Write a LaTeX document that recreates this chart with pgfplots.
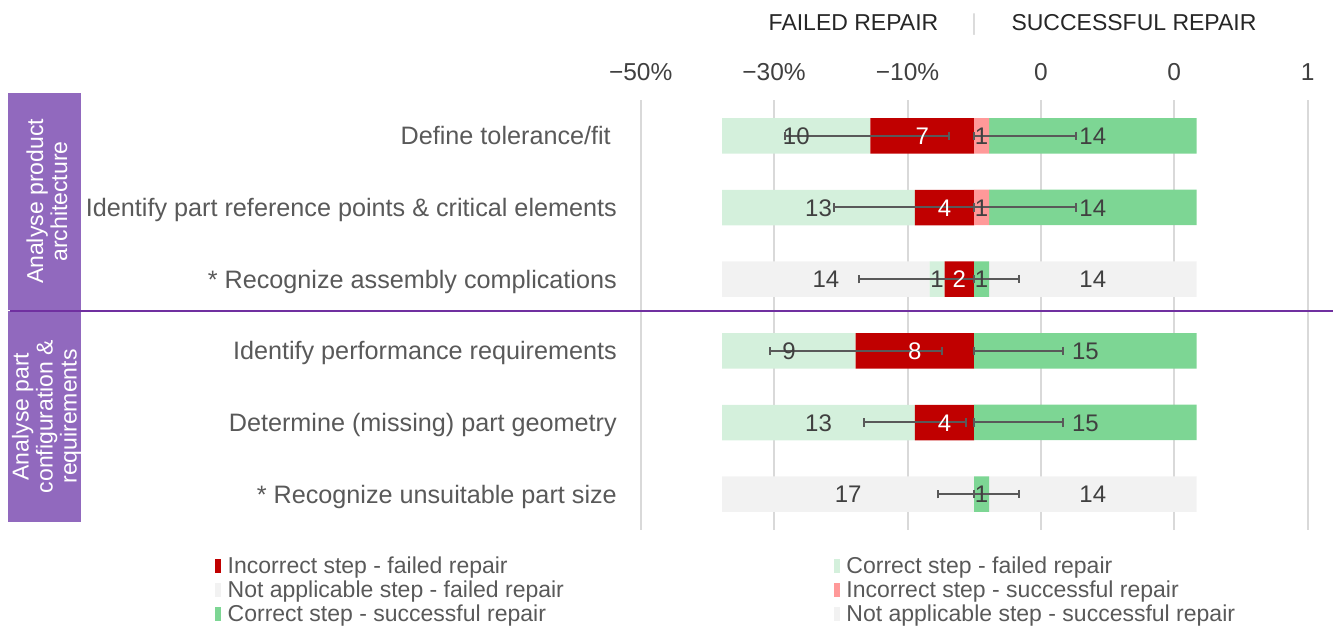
\documentclass[border=0pt]{standalone}
\usepackage{fontspec}
\setmainfont{Liberation Sans}
\usepackage{pgfplots}
\pgfplotsset{compat=1.18}

\definecolor{cRed}{HTML}{C00000}
\definecolor{cLGreen}{HTML}{D4F0DC}
\definecolor{cGrey}{HTML}{F2F2F2}
\definecolor{cPink}{HTML}{FF9999}
\definecolor{cGreen}{HTML}{7DD694}
\definecolor{cGrid}{HTML}{D9D9D9}
\definecolor{cErr}{HTML}{595959}
\definecolor{cBox}{HTML}{9169BE}
\definecolor{cLine}{HTML}{7030A0}
\definecolor{cLab}{HTML}{404040}
\definecolor{cCat}{HTML}{595959}
\definecolor{cHead}{HTML}{262626}

\pgfplotsset{
  base/.style={
    at={(640.7pt,98pt)}, anchor=south west,
    scale only axis, width=667pt, height=430pt,
    xmin=-22.5, xmax=22.5, ymin=0.5, ymax=6.5, y dir=reverse,
    clip=false,
  },
  myleg/.style={legend image code/.code={\fill[##1] (0pt,-7.5pt) rectangle (6pt,6.5pt);}},
  seg/.style={draw=none, fill=#1, myleg},
  lab/.style={draw=none, mark=none, point meta=explicit symbolic,
    nodes near coords, nodes near coords align=center,
    every node near coord/.append style={font=\fontsize{24}{28}\selectfont, text=#1,
      inner sep=0pt, text height=17.2pt, text depth=0pt, anchor=center}},
  whisk/.style={draw=none, mark=none, error bars/.cd, x dir=both, x explicit,
    error bar style={draw=cErr, line width=2pt, solid},
    error mark options={rotate=90, draw=cErr, line width=2pt, mark size=4.3pt}},
}

\begin{document}
\begin{tikzpicture}[x=1pt,y=1pt]
\useasboundingbox (0,0) rectangle (1333,628);

\fill[cBox] (8,535) rectangle (80.7,318);
\fill[cBox] (8,317) rectangle (80.7,106);

\begin{axis}[base, xbar stacked, bar width=35.5pt,
  axis line style={draw=none}, tick style={draw=none},
  xtick={-22.5,-13.5,-4.5,4.5,13.5,22.5},
  xticklabels={−50\%,−30\%,−10\%,0,0,1},
  xticklabel pos=upper,
  xticklabel style={font=\fontsize{24.5}{28}\selectfont, text=cLab, anchor=south, inner sep=0pt, yshift=19pt},
  xmajorgrids, grid style={cGrid, line width=2pt},
  ytick={1,2,3,4,5,6},
  yticklabels={Define tolerance/fit\hspace*{6pt}, Identify part reference points \& critical elements, * Recognize assembly complications, Identify performance requirements, Determine (missing) part geometry, * Recognize unsuitable part size},
  yticklabel style={font=\fontsize{25.2}{29}\selectfont, text=cCat, anchor=east, inner sep=0pt, xshift=-23.7pt, text height=18pt, text depth=0pt},
  legend columns=2, legend cell align=left,
  legend style={at={(-0.6382,-0.0623)}, anchor=north west, draw=none, fill=none, inner sep=0pt,
    font=\fontsize{23}{27}\selectfont, text=cCat, row sep=7.5pt,
    nodes={inner sep=0pt, text height=16.5pt, text depth=0pt},
    /tikz/every odd column/.append style={column sep=6.5pt},
    /tikz/every even column/.append style={column sep=270pt}},
]
\addplot[seg=cRed] coordinates {(-7,1) (-4,2) (-2,3) (-8,4) (-4,5) (0,6)};
\addlegendentry{Incorrect step - failed repair}
\addplot[seg=cLGreen] coordinates {(-10,1) (-13,2) (-1,3) (-9,4) (-13,5) (0,6)};
\addlegendentry{Correct step - failed repair}
\addplot[seg=cGrey] coordinates {(0,1) (0,2) (-14,3) (0,4) (0,5) (-17,6)};
\addlegendentry{Not applicable step - failed repair}
\addlegendimage{seg=cPink}
\addlegendentry{Incorrect step - successful repair}
\addlegendimage{seg=cGreen}
\addlegendentry{Correct step - successful repair}
\addlegendimage{seg=cGrey}
\addlegendentry{Not applicable step - successful repair}
\end{axis}

\begin{axis}[base, hide axis, xbar stacked, bar width=35.5pt]
\addplot[seg=cPink] coordinates {(1,1) (1,2) (0,3) (0,4) (0,5) (0,6)};
\addplot[seg=cGreen] coordinates {(14,1) (14,2) (1,3) (15,4) (15,5) (1,6)};
\addplot[seg=cGrey] coordinates {(0,1) (0,2) (14,3) (0,4) (0,5) (14,6)};
\end{axis}

\begin{axis}[base, hide axis]
\addplot[lab=cLab] coordinates {(-12,1) [10] (0.5,1) [1] (8,1) [14]
  (-10.5,2) [13] (0.5,2) [1] (8,2) [14]
  (-10,3) [14] (-2.5,3) [1] (0.5,3) [1] (8,3) [14]
  (-12.5,4) [9] (7.5,4) [15]
  (-10.5,5) [13] (7.5,5) [15]
  (-8.5,6) [17] (0.5,6) [1] (8,6) [14]};
\addplot[lab=white] coordinates {(-3.5,1) [7] (-2,2) [4] (-1,3) [2] (-4,4) [8] (-2,5) [4]};
\addplot[whisk] coordinates {(-7.235,1) +- (5.535,0) (-4.73,2) +- (4.73,0) (-3.885,3) +- (3.885,0)
   (-7.975,4) +- (5.805,0) (-3.995,5) +- (3.445,0) (-1.22,6) +- (1.22,0)};
\addplot[whisk] coordinates {(3.44,1) +- (3.44,0) (3.44,2) +- (3.44,0) (1.51,3) +- (1.51,0)
   (3.0,4) +- (3.0,0) (3.0,5) +- (3.0,0) (1.51,6) +- (1.51,0)};
\end{axis}

\draw[cLine, line width=2pt] (10,317.3) -- (1333,317.3);
\node[rotate=90, align=center, text=white, font=\fontsize{23}{24}\selectfont] at (46.8,426.5) {Analyse product\\architecture};
\node[rotate=90, align=center, text=white, font=\fontsize{23}{24}\selectfont] at (46.8,211.5) {Analyse part\\configuration \&\\requirements};

\node[anchor=base, font=\fontsize{23}{27}\selectfont, text=cHead] at (853.5,597) {FAILED REPAIR};
\node[anchor=base, font=\fontsize{23}{27}\selectfont, text=cGrid] at (974.2,597) {|};
\node[anchor=base, font=\fontsize{23}{27}\selectfont, text=cHead] at (1134,597) {SUCCESSFUL REPAIR};
\end{tikzpicture}
\end{document}
